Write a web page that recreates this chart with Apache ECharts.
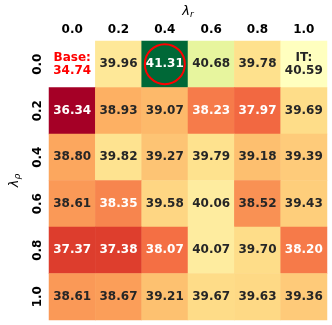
<!DOCTYPE html>
<html>
<head>
<meta charset="utf-8">
<script src="https://cdn.jsdelivr.net/npm/echarts@6/dist/echarts.min.js"></script>
<style>
  html, body { margin: 0; padding: 0; background: #fff; }
  #main { width: 332px; height: 325px; }
</style>
</head>
<body>
<div id="main"></div>
<script>
// tick labels
var lambdaR = ['0.0', '0.2', '0.4', '0.6', '0.8', '1.0'];
var lambdaRho = ['0.0', '0.2', '0.4', '0.6', '0.8', '1.0'];

// rows = lambda_rho, cols = lambda_r ; first cell is the base (not coloured)
var row0 = [null, 39.96, 41.31, 40.68, 39.78, 40.59];
var row1 = [36.34, 38.93, 39.07, 38.23, 37.97, 39.69];
var row2 = [38.80, 39.82, 39.27, 39.79, 39.18, 39.39];
var row3 = [38.61, 38.35, 39.58, 40.06, 38.52, 39.43];
var row4 = [37.37, 37.38, 38.07, 40.07, 39.70, 38.20];
var row5 = [38.61, 38.67, 39.21, 39.67, 39.63, 39.36];
var rows = [row0, row1, row2, row3, row4, row5];

var baseValue = 34.74;
var baseCell = [0, 0];
var itCell = [5, 0];
var bestCell = [2, 0];

var vmin = 36.34, vmax = 41.31, vcenter = 40.59;

// RdYlGn
var stops = ['#a50026','#d73027','#f46d43','#fdae61','#fee08b','#ffffbf',
             '#d9ef8b','#a6d96a','#66bd63','#1a9850','#006837'];
function hex2rgb(h) {
    return [parseInt(h.substr(1,2),16), parseInt(h.substr(3,2),16), parseInt(h.substr(5,2),16)];
}
function cmap(t) {
    t = Math.max(0, Math.min(1, t));
    var p = t * (stops.length - 1);
    var i = Math.min(Math.floor(p), stops.length - 2);
    var f = p - i;
    var a = hex2rgb(stops[i]), b = hex2rgb(stops[i+1]);
    return [0,1,2].map(function(k){ return Math.round(a[k] + (b[k]-a[k])*f); });
}
function norm(v) {
    if (v <= vcenter) return 0.5 * (v - vmin) / (vcenter - vmin);
    return 0.5 + 0.5 * (v - vcenter) / (vmax - vcenter);
}
function rgbStr(c) { return 'rgb(' + c.join(',') + ')'; }
function lum(c) {
    var l = c.map(function(x){
        x = x / 255;
        return x <= 0.03928 ? x / 12.92 : Math.pow((x + 0.055) / 1.055, 2.4);
    });
    return 0.2126*l[0] + 0.7152*l[1] + 0.0722*l[2];
}

// colour stops evenly spaced in value for the visualMap
var mapColors = [];
for (var i = 0; i <= 200; i++) {
    var v = vmin + (vmax - vmin) * i / 200;
    mapColors.push(rgbStr(cmap(norm(v))));
}

var data = [];
for (var r = 0; r < rows.length; r++) {
    for (var c = 0; c < rows[r].length; c++) {
        if (rows[r][c] != null) data.push([c, r, rows[r][c]]);
    }
}

var font = 'DejaVu Sans';
var myChart = echarts.init(document.getElementById('main'));
var option = {
    animation: false,
    textStyle: { fontFamily: font },
    grid: { left: 38, top: 33, width: 289, height: 287 },
    xAxis: {
        type: 'category',
        position: 'top',
        data: lambdaR,
        name: '{a|λ}{b|r}',
        nameLocation: 'middle',
        nameGap: 21,
        nameTextStyle: {
            rich: {
                a: { fontFamily: font, fontSize: 13, fontStyle: 'italic', color: '#000' },
                b: { fontFamily: font, fontSize: 9, fontStyle: 'italic', color: '#000', verticalAlign: 'bottom', padding: [6, 0, 0, 0] }
            }
        },
        axisLine: { show: false },
        axisTick: { alignWithLabel: true, length: 3.5, lineStyle: { color: '#555', width: 0.8 } },
        axisLabel: { fontFamily: font, fontSize: 12, fontWeight: 'bold', color: '#000', margin: 5 },
        splitLine: { show: false }
    },
    yAxis: {
        type: 'category',
        inverse: true,
        data: lambdaRho,
        name: '{a|λ}{b|ρ}',
        nameLocation: 'middle',
        nameGap: 27,
        nameTextStyle: {
            rich: {
                a: { fontFamily: font, fontSize: 13, fontStyle: 'italic', color: '#000' },
                b: { fontFamily: font, fontSize: 9, fontStyle: 'italic', color: '#000', verticalAlign: 'bottom', padding: [6, 0, 0, 0] }
            }
        },
        axisLine: { show: false },
        axisTick: { alignWithLabel: true, length: 3.5, lineStyle: { color: '#555', width: 0.8 } },
        axisLabel: { fontFamily: font, fontSize: 12, fontWeight: 'bold', color: '#000', rotate: 90, margin: 5 },
        splitLine: { show: false }
    },
    visualMap: {
        show: false,
        seriesIndex: 0,
        min: vmin,
        max: vmax,
        inRange: { color: mapColors }
    },
    series: [
        {
            type: 'heatmap',
            data: data,
            label: {
                show: true,
                fontFamily: font,
                fontSize: 12,
                fontWeight: 'bold',
                lineHeight: 13,
                formatter: function(p) {
                    var v = p.value[2];
                    var txt = v.toFixed(2);
                    if (p.value[0] === itCell[0] && p.value[1] === itCell[1]) txt = 'IT:\n' + txt;
                    var dark = lum(cmap(norm(v))) > 0.385;
                    return txt.split('\n').map(function(s){ return (dark ? '{d|' : '{w|') + s + '}'; }).join('\n');
                },
                rich: {
                    d: { color: '#262626', fontFamily: font, fontSize: 12, fontWeight: 'bold', lineHeight: 13 },
                    w: { color: '#ffffff', fontFamily: font, fontSize: 12, fontWeight: 'bold', lineHeight: 13 }
                }
            },
            emphasis: { disabled: true }
        },
        {
            type: 'scatter',
            data: [baseCell],
            symbol: 'rect',
            symbolSize: 1,
            itemStyle: { color: 'rgba(0,0,0,0)', opacity: 1 },
            label: {
                show: true,
                position: 'inside',
                formatter: 'Base:\n' + baseValue.toFixed(2),
                color: '#ff0000',
                opacity: 1,
                fontFamily: font,
                fontSize: 12,
                fontWeight: 'bold',
                lineHeight: 13
            },
            silent: true
        },
        {
            type: 'scatter',
            data: [bestCell],
            symbol: 'circle',
            symbolSize: 40,
            itemStyle: { color: 'rgba(0,0,0,0)', borderColor: '#ff0000', borderWidth: 2, opacity: 1 },
            z: 5,
            silent: true
        }
    ]
};
myChart.setOption(option);
</script>
</body>
</html>
